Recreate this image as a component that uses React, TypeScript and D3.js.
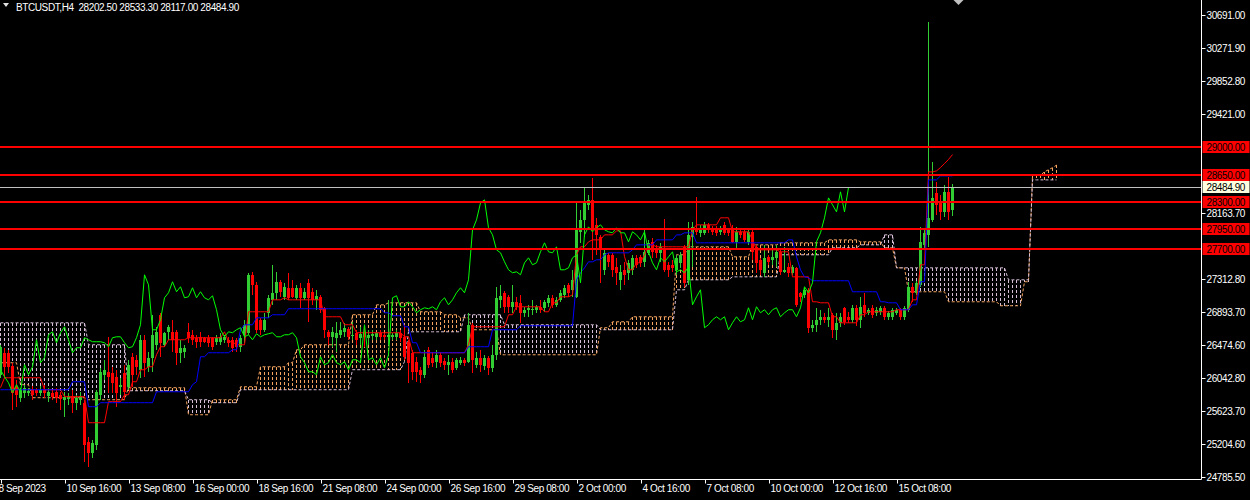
import { useEffect, useRef } from 'react';
import * as d3 from 'd3';

// H4 candles from 8 Sep 2023 00:00, [open, high, low, close]
const OHLC: [number, number, number, number][] = [
  [26090, 26473, 26051, 26448], [26371, 26435, 26051, 26192], [26371, 26409, 26115, 26192], [26205, 26243, 25642, 25860],
  [25936, 26026, 25681, 25834], [25796, 25924, 25745, 25898], [25860, 25962, 25796, 25924], [25860, 25924, 25821, 25885],
  [25911, 25949, 25770, 25834], [25898, 25924, 25821, 25860], [25860, 25949, 25821, 25898], [25911, 25962, 25796, 25860],
  [25821, 25924, 25745, 25872], [25860, 25898, 25770, 25809], [25872, 25924, 25732, 25796], [25834, 25872, 25642, 25783],
  [25770, 25872, 25553, 25809], [25783, 25860, 25706, 25821], [25821, 25898, 25604, 25732], [25732, 25834, 25642, 25796],
  [25770, 25872, 25706, 25821], [25732, 25770, 24978, 25195], [25233, 25297, 24914, 25093], [25093, 25259, 25029, 25221],
  [25195, 25898, 25131, 25872], [25834, 26179, 25770, 26128], [26090, 26281, 26026, 26154], [26128, 26575, 25860, 26064],
  [26115, 26192, 25860, 25987], [26064, 26154, 25681, 25860], [25936, 26051, 25834, 25962], [26115, 26218, 25770, 25872],
  [25936, 26281, 25898, 26218], [26320, 26371, 25936, 26090], [26281, 26345, 26090, 26192], [26154, 26601, 26051, 26537],
  [26537, 26601, 26064, 26243], [26192, 26384, 26128, 26307], [26307, 26857, 26128, 26601], [26473, 26703, 26409, 26639],
  [26857, 26882, 26320, 26499], [26473, 26639, 26448, 26627], [26639, 26729, 26537, 26703], [26639, 26793, 26384, 26537],
  [26639, 26665, 26218, 26371], [26371, 26537, 26243, 26435], [26384, 26473, 26307, 26435], [26639, 26754, 26499, 26563],
  [26601, 26665, 26473, 26537], [26563, 26601, 26435, 26512], [26575, 26639, 26448, 26512], [26563, 26575, 26499, 26512],
  [26563, 26601, 26448, 26499], [26563, 26575, 26409, 26448], [26512, 26601, 26473, 26563], [26512, 26627, 26473, 26575],
  [26537, 26601, 26499, 26575], [26537, 26575, 26448, 26499], [26537, 26575, 26384, 26435], [26537, 26563, 26384, 26448],
  [26448, 26601, 26384, 26563], [26601, 26793, 26499, 26729], [26627, 27394, 26601, 27368], [27368, 27406, 27112, 27240],
  [27240, 27279, 26627, 26665], [26793, 26818, 26601, 26665], [26665, 26882, 26639, 26793], [26882, 27112, 26818, 27074],
  [27048, 27496, 26984, 27138], [27138, 27406, 27048, 27279], [27279, 27304, 27087, 27151], [27087, 27266, 27048, 27215],
  [27202, 27394, 27048, 27074], [27202, 27304, 27074, 27087], [27074, 27240, 27048, 27202], [27202, 27266, 26946, 27074],
  [27074, 27202, 27048, 27151], [27266, 27317, 26767, 27074], [27151, 27202, 26984, 27048], [27048, 27176, 26921, 27100],
  [27087, 27112, 26882, 26921], [26946, 26959, 26563, 26665], [26639, 26665, 26473, 26575], [26575, 26703, 26448, 26639],
  [26563, 26767, 26384, 26627], [26601, 26767, 26563, 26665], [26639, 26754, 26575, 26691], [26678, 26703, 26537, 26575],
  [26588, 26767, 26537, 26601], [26627, 26665, 26473, 26537], [26563, 26703, 26473, 26614], [26627, 26729, 26448, 26575],
  [26563, 26665, 26473, 26601], [26588, 26665, 26537, 26614], [26575, 26639, 26537, 26627], [26627, 26665, 26537, 26575],
  [26601, 26627, 26537, 26575], [26575, 27048, 26473, 26601], [26575, 26627, 26537, 26601], [26575, 26665, 26537, 26627],
  [26627, 26665, 26512, 26563], [26575, 26729, 26281, 26320], [26512, 26537, 25987, 26243], [26371, 26409, 26026, 26128],
  [26256, 26320, 26000, 26128], [26154, 26192, 25987, 26090], [26090, 26409, 26051, 26320], [26409, 26448, 26179, 26218],
  [26307, 26384, 26192, 26243], [26256, 26409, 26179, 26345], [26345, 26384, 26192, 26243], [26269, 26307, 26154, 26218],
  [26218, 26345, 26090, 26256], [26256, 26307, 26115, 26154], [26179, 26307, 26154, 26281], [26243, 26320, 26218, 26281],
  [26281, 26307, 26205, 26243], [26256, 26882, 26243, 26729], [26729, 26754, 26115, 26281], [26218, 26384, 26179, 26307],
  [26307, 26409, 26128, 26218], [26205, 26345, 26154, 26307], [26307, 26333, 26090, 26179], [26179, 26473, 26128, 26345],
  [26345, 27215, 26281, 27074], [27048, 27240, 26946, 27100], [27138, 27160, 26882, 26959], [27087, 27110, 26882, 26959],
  [26959, 27240, 26882, 27023], [27023, 27087, 26921, 26959], [27010, 27112, 26754, 26882], [26882, 26959, 26831, 26921],
  [26921, 26984, 26831, 26946], [26921, 27048, 26857, 26934], [26921, 26984, 26882, 26959], [26959, 27048, 26882, 26921],
  [26946, 27048, 26895, 27023], [27010, 27112, 26959, 27074], [27074, 27112, 26946, 26984], [26984, 27087, 26959, 27048],
  [27048, 27176, 27023, 27138], [27112, 27240, 27074, 27202], [27240, 27266, 27087, 27138], [27176, 27432, 27087, 27304],
  [27087, 28301, 27074, 27943], [27918, 28199, 27777, 28071], [28071, 28493, 27854, 28288], [28263, 28391, 28199, 28327],
  [28327, 28608, 27560, 27969], [28007, 28097, 27624, 27879], [27854, 27879, 27266, 27687], [27432, 27687, 27368, 27649],
  [27624, 27649, 27470, 27534], [27624, 27649, 27342, 27432], [27470, 27585, 27240, 27394], [27304, 27496, 27176, 27406],
  [27432, 27534, 27240, 27368], [27394, 27560, 27304, 27521], [27432, 27624, 27368, 27585], [27585, 27624, 27457, 27496],
  [27598, 27624, 27470, 27521], [27534, 27943, 27470, 27662], [27649, 27815, 27624, 27777], [27790, 27841, 27585, 27662],
  [27713, 27751, 27585, 27649], [27649, 27777, 27534, 27726], [27713, 28084, 27406, 27432], [27496, 27534, 27342, 27432],
  [27496, 27560, 27406, 27457], [27432, 27624, 27368, 27585], [27521, 27662, 27457, 27624], [27726, 27751, 27215, 27266],
  [27304, 28045, 27240, 27879], [27854, 28045, 27470, 27981], [27969, 28365, 27879, 27918], [27905, 28007, 27854, 27969],
  [27905, 28045, 27879, 28007], [28007, 28033, 27905, 27943], [27969, 27994, 27879, 27918], [27969, 27994, 27867, 27905],
  [27918, 27994, 27879, 27969], [28007, 28045, 27879, 27905], [27943, 27969, 27867, 27905], [27943, 28007, 27777, 27790],
  [27790, 27981, 27687, 27918], [27918, 27943, 27841, 27879], [27918, 27943, 27790, 27815], [27790, 27943, 27751, 27918],
  [27918, 27943, 27560, 27662], [27726, 27751, 27394, 27521], [27560, 27585, 27368, 27432], [27394, 27751, 27342, 27585],
  [27598, 27624, 27496, 27534], [27560, 27713, 27496, 27598], [27585, 27751, 27470, 27662], [27662, 27687, 27368, 27406],
  [27406, 27726, 27394, 27432], [27470, 27521, 27342, 27394], [27394, 27496, 27368, 27470], [27457, 27470, 26959, 26984],
  [27138, 27151, 27023, 27087], [27112, 27202, 27074, 27176], [27176, 27202, 26627, 26691], [26691, 26793, 26639, 26729],
  [26729, 26946, 26639, 26793], [26793, 26921, 26729, 26831], [26831, 26882, 26754, 26793], [26793, 26946, 26703, 26831],
  [26857, 26882, 26563, 26665], [26665, 26882, 26537, 26754], [26754, 26882, 26703, 26831], [26946, 26959, 26729, 26767],
  [26831, 26895, 26754, 26793], [26793, 26984, 26754, 26946], [26946, 26984, 26716, 26793], [26793, 27087, 26691, 26959],
  [26984, 27138, 26831, 26882], [26882, 26946, 26857, 26921], [26946, 26984, 26818, 26857], [26882, 26959, 26844, 26921],
  [26895, 26972, 26857, 26946], [26946, 26972, 26793, 26831], [26831, 26908, 26793, 26882], [26831, 26946, 26793, 26921],
  [26882, 26946, 26857, 26921], [26921, 26946, 26793, 26831], [26831, 26972, 26793, 26946], [26921, 27279, 26895, 27215],
  [27215, 27266, 27023, 27138], [27138, 27292, 27112, 27266], [27240, 27981, 27215, 27790], [27751, 27969, 27713, 27905],
  [27879, 30602, 27726, 28097], [28071, 28812, 28045, 28352], [28416, 28557, 28135, 28263], [28288, 28391, 28071, 28173],
  [28173, 28518, 28110, 28429], [28429, 28621, 28071, 28173], [28202.5, 28533.3, 28117.0, 28484.9],
];

// Ichimoku lines as [bar, price] steps
const TENKAN: [number, number][] = [
  [0, 25924], [1, 26051], [11, 25898], [16, 25809], [22, 25476], [27, 25745], [31, 25834], [33, 26000], [35, 26154],
  [37, 26192], [39, 26345], [40, 26448], [42, 26537], [47, 26563], [56, 26639], [57, 26512], [59, 26473], [62, 26895],
  [68, 27048], [71, 27074], [72, 27048], [81, 26831], [86, 26729], [89, 26627], [101, 26575], [103, 26371], [117, 26473],
  [118, 26703], [127, 26857], [129, 26959], [136, 26895], [138, 27010], [140, 27087], [143, 27112], [144, 27624],
  [145, 27726], [147, 27790], [148, 27815], [151, 27879], [154, 27930], [156, 27600], [157, 27432], [159, 27521],
  [161, 27624], [162, 27751], [164, 27726], [173, 27943], [174, 28007], [180, 28097], [183, 27918], [188, 27815],
  [189, 27687], [195, 27662], [198, 27342], [203, 27023], [205, 27010], [208, 26831], [210, 26754], [215, 26857],
  [217, 26895], [224, 26921], [228, 27048], [230, 27496], [232, 28684], [234, 28697], [235, 28740], [236, 28791],
  [237, 28843], [238, 28906],
];
const KIJUN: [number, number][] = [
  [0, 25898], [18, 26000], [22, 25681], [25, 25732], [39, 25872], [48, 25962], [49, 26000], [50, 26320], [52, 26371],
  [58, 26409], [60, 26665], [61, 26729], [64, 26818], [68, 26857], [72, 26934], [96, 26882], [98, 26844], [101, 26703],
  [103, 26499], [105, 26371], [117, 26448], [123, 26665], [130, 26716], [144, 27304], [145, 27394], [146, 27457],
  [147, 27534], [149, 27560], [151, 27624], [152, 27649], [158, 27687], [159, 27751], [164, 27815], [169, 27879],
  [171, 27905], [174, 27777], [197, 27815], [199, 27600], [200, 27430], [201, 27342], [202, 27330], [203, 27292],
  [213, 27151], [220, 27023], [222, 27010], [225, 26921], [228, 26984], [230, 27279], [232, 28582], [235, 28633],
  [238, 28633],
];
const SPAN_A: [number, number][] = [
  [0, 26243], [5, 25962], [8, 25796], [22, 25770], [32, 25924], [47, 25578], [53, 25770], [60, 25936], [65, 26192],
  [72, 26243], [74, 26409], [76, 26473], [88, 26857], [94, 26984], [97, 27010], [105, 26895], [111, 26857], [115, 26818],
  [118, 26665], [125, 26345], [150, 26691], [153, 26767], [158, 26831], [169, 27624], [172, 27726], [183, 27598],
  [188, 27751], [195, 27777], [207, 27815], [215, 27790], [221, 27713], [224, 27457], [227, 27151], [237, 27023],
  [250, 26972], [256, 27279], [258, 28640], [261, 28686], [262, 28712], [263, 28738], [264, 28770],
];
const SPAN_B: [number, number][] = [
  [0, 26754], [22, 26473], [32, 25885], [47, 25770], [53, 25732], [60, 25898], [88, 26154], [101, 26256], [102, 26639],
  [116, 26857], [126, 26729], [150, 26665], [169, 27176], [172, 27304], [183, 27342], [195, 27624], [208, 27713],
  [215, 27751], [221, 27879], [224, 27457], [252, 27304], [258, 28582], [264, 28582],
];
const CHIKOU_SHIFT = 26;

const LEVELS = [29000, 28650, 28300, 27950, 27700];
const LAST_PRICE = 28484.9;
const PRICE_TICKS = [30691.0, 30271.9, 29852.8, 29421.0, 28163.7, 27312.8, 26893.7, 26474.6, 26042.8, 25623.7, 25204.6, 24785.5];
const TIME_TICKS: [number, string][] = [
  [0, '8 Sep 2023'], [16, '10 Sep 16:00'], [32, '13 Sep 08:00'], [48, '16 Sep 00:00'], [64, '18 Sep 16:00'],
  [80, '21 Sep 08:00'], [96, '24 Sep 00:00'], [112, '26 Sep 16:00'], [128, '29 Sep 08:00'], [144, '2 Oct 00:00'],
  [160, '4 Oct 16:00'], [176, '7 Oct 08:00'], [192, '10 Oct 00:00'], [208, '12 Oct 16:00'], [224, '15 Oct 08:00'],
];
const TITLE = 'BTCUSDT,H4  28202.50 28533.30 28117.00 28484.90';

const W = 1250;
const H = 500;
const AXIS_X = 1201.5;
const AXIS_Y = 479.5;
const FONT = '"Liberation Sans", Arial, sans-serif';
const FONT_SIZE = 10;
const TRACK = -0.4;
const BULL = '#32CD32';
const BEAR = '#FF0000';
const SANDY = '#F4A460';
const THISTLE = '#D8BFD8';

type Pt = { i: number; v: number };

function steps(bp: [number, number][], last: number): Pt[] {
  const out: Pt[] = [];
  let k = 0;
  for (let i = bp[0][0]; i <= last; i++) {
    while (k + 1 < bp.length && bp[k + 1][0] <= i) k++;
    out.push({ i, v: bp[k][1] });
  }
  return out;
}

export default function App() {
  const ref = useRef<SVGSVGElement>(null);

  useEffect(() => {
    const svg = d3.select(ref.current!);
    svg.selectAll('*').remove();

    const x = d3.scaleLinear().domain([0, 300]).range([0.5, 1200.5]);
    const y = d3.scaleLinear().domain([24785.5, 30691]).range([476.7, 15]);
    const lastBar = OHLC.length - 1;
    const cloudEnd = lastBar + CHIKOU_SHIFT;

    svg.append('rect').attr('width', W).attr('height', H).attr('fill', '#000');
    svg.append('defs').append('clipPath').attr('id', 'plot')
      .append('rect').attr('x', 0).attr('y', 0).attr('width', AXIS_X).attr('height', AXIS_Y);
    const plot = svg.append('g').attr('clip-path', 'url(#plot)');

    // Kumo hatching
    const spanA = steps(SPAN_A, cloudEnd);
    const spanB = steps(SPAN_B, cloudEnd);
    const kumo = spanA.map((d, k) => ({ i: d.i, a: d.v, b: spanB[k].v }));
    plot.append('g').selectAll('line').data(kumo.filter((d) => Math.abs(y(d.a) - y(d.b)) > 1)).join('line')
      .attr('x1', (d) => x(d.i)).attr('x2', (d) => x(d.i))
      .attr('y1', (d) => y(Math.max(d.a, d.b))).attr('y2', (d) => y(Math.min(d.a, d.b)))
      .attr('stroke', (d) => (d.a >= d.b ? SANDY : THISTLE)).attr('stroke-width', 1)
      .attr('stroke-dasharray', '3 2').attr('shape-rendering', 'crispEdges');

    const line = d3.line<Pt>().x((d) => x(d.i)).y((d) => y(d.v));
    plot.append('path').attr('d', line(spanA) ?? '').attr('fill', 'none')
      .attr('stroke', SANDY).attr('stroke-dasharray', '3 2');
    plot.append('path').attr('d', line(spanB) ?? '').attr('fill', 'none')
      .attr('stroke', THISTLE).attr('stroke-dasharray', '3 2');

    // Candles
    const candles = plot.append('g').attr('shape-rendering', 'crispEdges');
    const cData = OHLC.map(([o, h, l, c], i) => ({ i, o, h: Math.max(h, o, c), l: Math.min(l, o, c), c }));
    candles.selectAll('line').data(cData).join('line')
      .attr('x1', (d) => x(d.i)).attr('x2', (d) => x(d.i))
      .attr('y1', (d) => y(d.h)).attr('y2', (d) => y(d.l))
      .attr('stroke', (d) => (d.c >= d.o ? BULL : BEAR));
    candles.selectAll('rect').data(cData).join('rect')
      .attr('x', (d) => x(d.i) - 1.5).attr('width', 3)
      .attr('y', (d) => y(Math.max(d.o, d.c)))
      .attr('height', (d) => Math.max(1, Math.abs(y(d.o) - y(d.c))))
      .attr('fill', (d) => (d.c >= d.o ? BULL : BEAR));

    // Tenkan, Kijun, Chikou
    plot.append('path').attr('d', line(steps(TENKAN, lastBar)) ?? '').attr('fill', 'none').attr('stroke', '#FF0000');
    plot.append('path').attr('d', line(steps(KIJUN, lastBar)) ?? '').attr('fill', 'none').attr('stroke', '#0000FF');
    const chikou = OHLC.slice(CHIKOU_SHIFT).map((d, i) => ({ i, v: d[3] }));
    plot.append('path').attr('d', line(chikou) ?? '').attr('fill', 'none').attr('stroke', '#00FF00');

    // Bid line and horizontal levels
    plot.append('line').attr('x1', 0).attr('x2', AXIS_X).attr('y1', Math.round(y(LAST_PRICE)) + 0.5)
      .attr('y2', Math.round(y(LAST_PRICE)) + 0.5).attr('stroke', '#C0C0C0');
    plot.selectAll('.level').data(LEVELS).join('line').attr('class', 'level')
      .attr('x1', 0).attr('x2', AXIS_X).attr('y1', (d) => Math.round(y(d))).attr('y2', (d) => Math.round(y(d)))
      .attr('stroke', '#FF0000').attr('stroke-width', 2);

    // Axes frame
    svg.append('line').attr('x1', AXIS_X).attr('x2', AXIS_X).attr('y1', 0).attr('y2', AXIS_Y).attr('stroke', '#fff');
    svg.append('line').attr('x1', 0).attr('x2', AXIS_X).attr('y1', AXIS_Y).attr('y2', AXIS_Y).attr('stroke', '#fff');

    // Price scale
    const pt = svg.append('g').selectAll('g').data(PRICE_TICKS).join('g')
      .attr('transform', (d) => `translate(0,${Math.round(y(d)) + 0.5})`);
    pt.append('line').attr('x1', AXIS_X).attr('x2', AXIS_X + 4).attr('stroke', '#fff');
    pt.append('text').attr('x', AXIS_X + 5).attr('dy', '0.35em').attr('fill', '#fff')
      .attr('font-family', FONT).attr('font-size', FONT_SIZE).attr('letter-spacing', TRACK).text((d) => d.toFixed(2));

    // Time scale
    const tt = svg.append('g').selectAll('g').data(TIME_TICKS).join('g')
      .attr('transform', ([i]) => `translate(${Math.round(x(i)) + 0.5},0)`);
    tt.append('line').attr('y1', AXIS_Y).attr('y2', AXIS_Y + 4).attr('stroke', '#fff');
    tt.append('text').attr('x', ([i]) => (i === 0 ? -3 : 1)).attr('y', 492).attr('fill', '#fff')
      .attr('font-family', FONT).attr('font-size', FONT_SIZE).attr('letter-spacing', TRACK).text(([, s]) => s);

    // Level labels
    const lab = svg.append('g').selectAll('g').data(LEVELS).join('g')
      .attr('transform', (d) => `translate(${AXIS_X + 1},${Math.round(y(d))})`);
    lab.append('rect').attr('x', 0).attr('y', -6).attr('width', 47).attr('height', 12).attr('fill', '#FF0000');
    lab.append('text').attr('x', 4).attr('dy', '0.35em').attr('fill', '#000')
      .attr('font-family', FONT).attr('font-size', FONT_SIZE).attr('letter-spacing', TRACK).text((d) => d.toFixed(2));

    const bid = svg.append('g').attr('transform', `translate(${AXIS_X + 1},${Math.round(y(LAST_PRICE))})`);
    bid.append('rect').attr('x', 0).attr('y', -6).attr('width', 47).attr('height', 12).attr('fill', '#FFFFE0');
    bid.append('text').attr('x', 4).attr('dy', '0.35em').attr('fill', '#000')
      .attr('font-family', FONT).attr('font-size', FONT_SIZE).attr('letter-spacing', TRACK).text(LAST_PRICE.toFixed(2));

    // Title and chart-shift marker
    svg.append('path').attr('d', 'M3,3 L9,3 L6,7 Z').attr('fill', '#E0E0E0');
    svg.append('text').attr('x', 16).attr('y', 11).attr('fill', '#fff').attr('xml:space', 'preserve')
      .attr('font-family', FONT).attr('font-size', FONT_SIZE).attr('letter-spacing', TRACK).text(TITLE);
    svg.append('path').attr('d', `M${x(lastBar) + 1},0 L${x(lastBar) + 11},0 L${x(lastBar) + 6},5 Z`).attr('fill', '#C0C0C0');
  }, []);

  return (
    <div style={{ position: 'absolute', left: 0, top: 0, width: W, height: H, background: '#000' }}>
      <svg ref={ref} width={W} height={H} />
    </div>
  );
}
